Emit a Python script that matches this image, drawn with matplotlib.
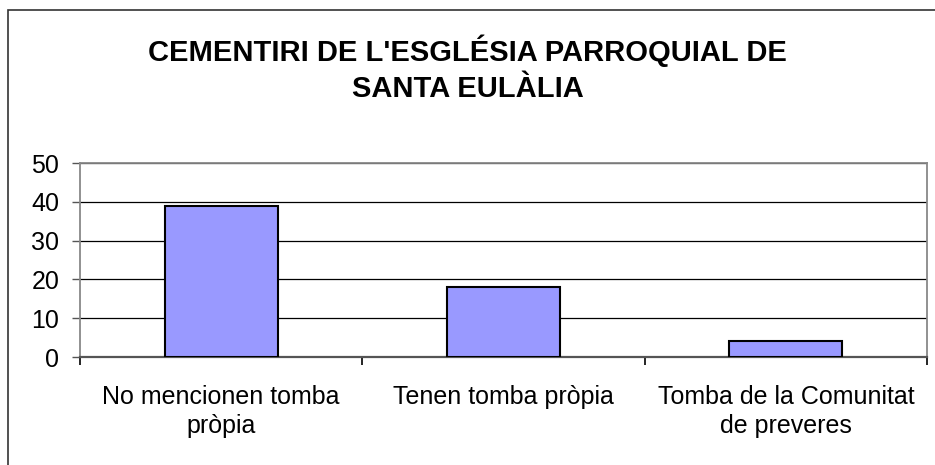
import matplotlib
matplotlib.use("Agg")
import matplotlib.pyplot as plt
from matplotlib.patches import Rectangle

categories = [
    "No mencionen tomba\npròpia",
    "Tenen tomba pròpia",
    "Tomba de la Comunitat\nde preveres",
]
counts = [39, 18, 4]
y_ticks = [0, 10, 20, 30, 40, 50]
title = "CEMENTIRI DE L'ESGLÉSIA PARROQUIAL DE\nSANTA EULÀLIA"

plt.rcParams["font.family"] = ["Liberation Sans", "DejaVu Sans"]

fig = plt.figure(figsize=(9.35, 4.65), dpi=100)

# outer frame around the chart
W, H = 935, 465
fig.patches.append(
    Rectangle((8 / W, -0.1), 1.2, (H - 10) / H + 0.1,
              transform=fig.transFigure, fill=False,
              edgecolor="#333333", linewidth=1.2)
)

ax = fig.add_axes([80 / W, (H - 357) / H, (927 - 80) / W, (357 - 163) / H])

x = range(len(categories))
ax.bar(x, counts, width=0.4, color="#9999FF",
       edgecolor="black", linewidth=1.5, zorder=3)

ax.set_xlim(-0.5, len(categories) - 0.5)
ax.set_ylim(0, 50)
ax.set_yticks(y_ticks)
ax.yaxis.grid(True, color="black", linewidth=0.9, zorder=0)

ax.set_xticks(list(x))
ax.set_xticklabels(categories, fontsize=18, linespacing=1.3)
ax.tick_params(axis="x", length=0, pad=20)
ax.set_xticks([i - 0.5 for i in range(len(categories) + 1)], minor=True)
ax.tick_params(axis="x", which="minor", length=6, width=1.2, color="black")
ax.tick_params(axis="y", labelsize=18, length=6, width=1, color="#555555", pad=9)

for side in ["left", "top", "right"]:
    ax.spines[side].set_color("#888888")
    ax.spines[side].set_linewidth(1.3)
ax.spines["bottom"].set_color("#555555")
ax.spines["bottom"].set_linewidth(1.6)

fig.text(0.5, 1 - 69 / H, title, ha="center", va="center",
         fontsize=21, fontweight="bold", linespacing=1.35)

fig.savefig("out.png", dpi=100)
